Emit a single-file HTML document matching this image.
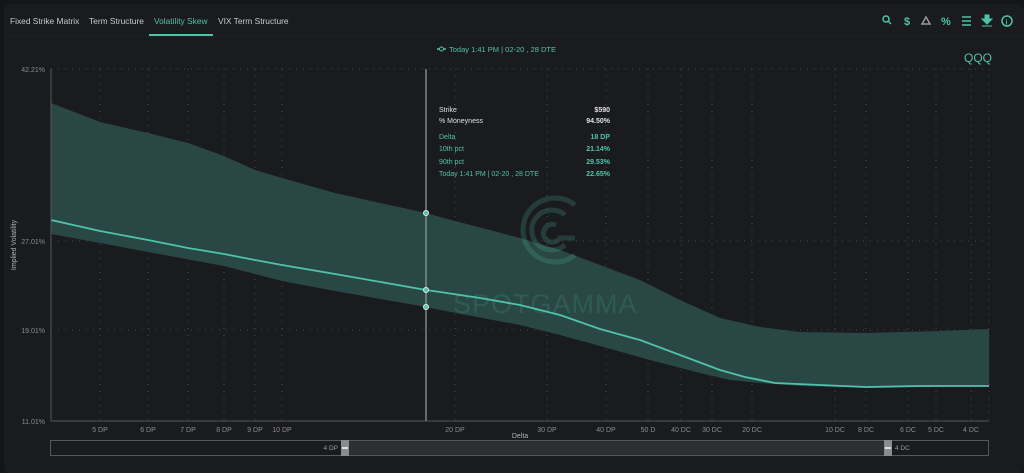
<!DOCTYPE html>
<html><head><meta charset="utf-8"><style>
body{margin:0;width:1024px;height:473px;background:#141518;overflow:hidden;font-family:"Liberation Sans",sans-serif;}
.panel{position:absolute;left:4px;top:4px;width:1020px;height:469px;background:#1a1b1f;border-radius:6px;}
.tabs{position:absolute;top:16px;left:10px;font-size:8.4px;color:#c9cacc;}
.tabs span{position:absolute;white-space:nowrap;}
svg{position:absolute;left:0;top:0;}
</style></head><body>
<div class="panel"></div>
<div style="position:absolute;left:4px;top:36px;width:1020px;height:1px;background:#202126"></div>
<div class="tabs">
<span style="left:0">Fixed Strike Matrix</span>
<span style="left:79px">Term Structure</span>
<span style="left:144px;color:#4fc3a9">Volatility Skew</span>
<span style="left:208px">VIX Term Structure</span>
</div>
<div style="position:absolute;left:149px;top:34px;width:64px;height:2px;background:#4fc3a9"></div>
<svg width="1024" height="473" viewBox="0 0 1024 473" font-family="Liberation Sans, sans-serif">
<!-- icons -->
<g fill="none" stroke="#4fc3a9" stroke-width="1.5">
<circle cx="886" cy="19" r="3"/><line x1="888" y1="21" x2="891" y2="24"/>
<path d="M926 17 L922 24 L930 24 Z" stroke="#9a9a9a"/>
<circle cx="1007" cy="21" r="5"/>
<path d="M962 17h9M962 21h9M962 25h9"/>
</g>
<text x="904" y="25" fill="#4fc3a9" font-size="11" font-weight="bold">$</text>
<text x="941" y="25" fill="#4fc3a9" font-size="11" font-weight="bold">%</text>
<path d="M985 15h4v4h3l-5 5-5-5h3z M982 26h10" fill="#4fc3a9" stroke="#4fc3a9"/>
<text x="1005.5" y="24.5" fill="#4fc3a9" font-size="7" font-weight="bold">i</text>
<text x="964" y="62" fill="#4fc3a9" font-size="12">QQQ</text>
<!-- legend -->
<line x1="437" y1="49" x2="446" y2="49" stroke="#4fc3a9" stroke-width="1.5"/><circle cx="441.5" cy="49" r="2" fill="#1a1b1f" stroke="#4fc3a9"/>
<text x="449" y="52" fill="#4fc3a9" font-size="7.5">Today 1:41 PM | 02-20 , 28 DTE</text>
<!-- grid -->
<g stroke="#55575c" stroke-width="0.8" stroke-dasharray="1 6">
<line x1="51" y1="69" x2="989" y2="69"/><line x1="51" y1="241" x2="989" y2="241"/><line x1="51" y1="330" x2="989" y2="330"/>
<path d="M100 69V421M148 69V421M188 69V421M224 69V421M255 69V421M282 69V421M455 69V421M547 69V421M606 69V421M648 69V421M681 69V421M712 69V421M752 69V421M835 69V421M866 69V421M908 69V421M936 69V421M971 69V421M989 69V421"/>
</g>
<!-- band -->
<path d="M51 103 L100 122 L148 133 L188 143 L224 156 L255 170 L282 178 L335 193 L426 213 L440 217 L520 238 L560 250 L600 265 L640 280 L680 300 L720 318 L760 327 L800 332 L866 333 L940 331 L989 329 L989 386 L866 388 L800 386 L760 383 L730 380 L700 373 L650 360 L600 346 L560 335 L520 325 L440 310 L426 307 L335 291 L282 281 L224 266 L148 252 L100 243 L51 234 Z" fill="#2a4a47" opacity="0.95"/>
<!-- watermark -->
<g opacity="0.2" fill="none" stroke="#4fc3a9" stroke-width="5">
<path d="M575 205 A32 32 0 1 0 575 255"/><path d="M565 215 A20 20 0 1 0 565 245"/><path d="M556 225 A9 9 0 1 0 560 238 L575 238"/>
</g>
<text x="453" y="313" fill="#4fc3a9" opacity="0.16" font-size="27" letter-spacing="1">SPOTGAMMA</text>
<path d="M51 220 L100 231 L148 240 L188 248 L224 254 L255 260 L282 265 L335 274 L426 290 L440 292 L480 298 L520 305 L560 315 L600 329 L640 340 L680 355 L720 370 L745 377 L775 383 L820 385 L866 387 L920 386 L989 386" fill="none" stroke="#4fc3a9" stroke-width="1.8"/>
<!-- axes -->
<line x1="51" y1="69" x2="51" y2="421" stroke="#55575c"/>
<line x1="51" y1="421" x2="989" y2="421" stroke="#55575c"/>
<g fill="#8a8b8f" font-size="7" text-anchor="end">
<text x="45" y="72">42.21%</text><text x="45" y="244">27.01%</text><text x="45" y="333">19.01%</text><text x="45" y="424">11.01%</text>
</g>
<text transform="translate(16,245) rotate(-90)" fill="#b0b1b4" font-size="7" text-anchor="middle">Implied Volatility</text>
<g fill="#8a8b8f" font-size="7" text-anchor="middle">
<text x="100" y="432">5 DP</text><text x="148" y="432">6 DP</text><text x="188" y="432">7 DP</text><text x="224" y="432">8 DP</text><text x="255" y="432">9 DP</text><text x="282" y="432">10 DP</text><text x="455" y="432">20 DP</text><text x="547" y="432">30 DP</text><text x="606" y="432">40 DP</text><text x="648" y="432">50 D</text><text x="681" y="432">40 DC</text><text x="712" y="432">30 DC</text><text x="752" y="432">20 DC</text><text x="835" y="432">10 DC</text><text x="866" y="432">8 DC</text><text x="908" y="432">6 DC</text><text x="936" y="432">5 DC</text><text x="971" y="432">4 DC</text>
</g>
<text x="520" y="438" fill="#b0b1b4" font-size="7" text-anchor="middle">Delta</text>
<!-- crosshair -->
<line x1="426" y1="69" x2="426" y2="421" stroke="#9a9b9e" stroke-width="1.2"/>
<g fill="#4fc3a9" stroke="#e8e8e8" stroke-width="1"><circle cx="426" cy="213" r="2.5"/><circle cx="426" cy="290" r="2.5"/><circle cx="426" cy="307" r="2.5"/></g>
<!-- tooltip -->
<g font-size="7">
<text x="439" y="112" fill="#e0e0e0">Strike</text><text x="610" y="112" fill="#e0e0e0" text-anchor="end" font-weight="bold">$590</text>
<text x="439" y="123" fill="#e0e0e0">% Moneyness</text><text x="610" y="123" fill="#e0e0e0" text-anchor="end" font-weight="bold">94.50%</text>
<text x="439" y="139" fill="#4fc3a9">Delta</text><text x="610" y="139" fill="#4fc3a9" text-anchor="end" font-weight="bold">18 DP</text>
<text x="439" y="151" fill="#4fc3a9">10th pct</text><text x="610" y="151" fill="#4fc3a9" text-anchor="end" font-weight="bold">21.14%</text>
<text x="439" y="164" fill="#4fc3a9">90th pct</text><text x="610" y="164" fill="#4fc3a9" text-anchor="end" font-weight="bold">29.53%</text>
<text x="439" y="176" fill="#4fc3a9">Today 1:41 PM | 02-20 , 28 DTE</text><text x="610" y="176" fill="#4fc3a9" text-anchor="end" font-weight="bold">22.65%</text>
</g>
<!-- slider -->
<rect x="50.5" y="440.5" width="938" height="15" fill="#1a1b1f" stroke="#55575c"/>
<rect x="345" y="441" width="540" height="14" fill="#2d2e32"/>
<rect x="341" y="440" width="8" height="16" fill="#8a8b8f"/><rect x="342" y="447" width="6" height="2" fill="#ddd"/>
<rect x="884" y="440" width="8" height="16" fill="#8a8b8f"/><rect x="885" y="447" width="6" height="2" fill="#ddd"/>
<text x="338" y="450" fill="#9a9b9e" font-size="6.5" text-anchor="end">4 DP</text>
<text x="895" y="450" fill="#9a9b9e" font-size="6.5">4 DC</text>
</svg>
</body></html>
